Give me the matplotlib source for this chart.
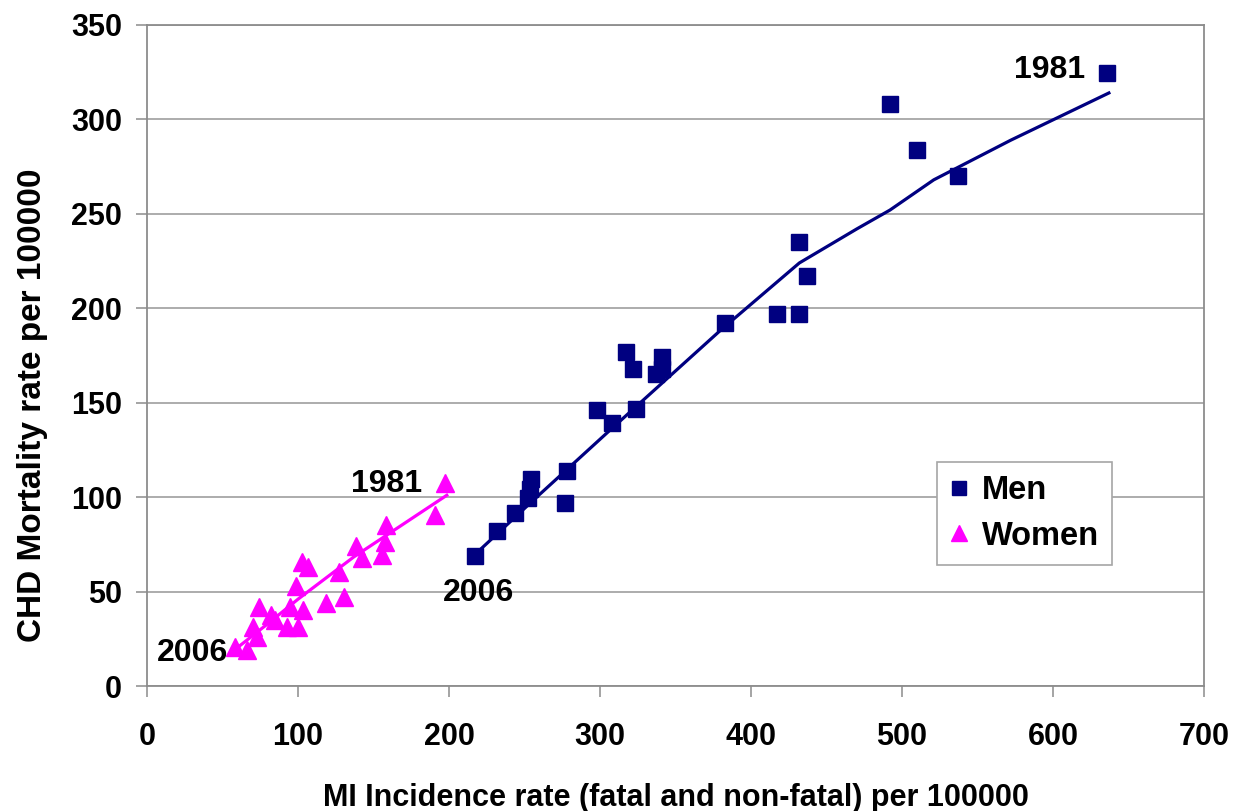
import numpy as np
import matplotlib.pyplot as plt

plt.rcParams['font.family'] = ['Liberation Sans', 'DejaVu Sans']
plt.rcParams['font.weight'] = 'bold'

# men: MI incidence vs CHD mortality, per 100000
men_x = [217, 232, 244, 252.5, 253.6, 254.3, 277, 278, 298, 308, 317, 322, 324,
         337, 341, 341, 383, 417, 432, 432, 437, 492, 510, 537, 636]
men_y = [69, 82, 91.5, 99.5, 104.5, 109.5, 97, 114, 146, 139, 177, 168, 146.5,
         165, 174, 168, 192, 197, 197, 235, 217, 308, 284, 270, 324.5]
men_trend_x = [221, 258, 308, 380, 432, 470, 492, 521, 572, 637]
men_trend_y = [72.5, 100, 136.5, 188.5, 224, 242, 252, 268, 289, 314]

# women
women_x = [58.3, 66, 70.4, 72.5, 74.3, 82.4, 84.8, 92.5, 100.2, 94.7, 103.5, 98.7,
           102.4, 106.8, 118.5, 130.5, 127.3, 138.4, 142.1, 155.3, 157.6, 158.3,
           190.7, 197.4]
women_y = [20.8, 19, 31.4, 26, 42, 37.6, 35, 31.4, 31.4, 42, 40.2, 53,
           65.8, 63.2, 43.8, 47.3, 60.5, 74.1, 67.6, 69.3, 76.4, 85.2,
           90.5, 107.3]
women_trend_x = [55, 80, 100, 137, 198.5]
women_trend_y = [17.3, 33, 46, 68.4, 101]

men_col = '#000080'
women_col = '#FF00FF'

fig = plt.figure(figsize=(12.41, 8.11), dpi=100)
ax = fig.add_axes([0.1185, 0.1541, 0.8517, 0.8151])

ax.plot(men_trend_x, men_trend_y, color=men_col, lw=2.3, zorder=2)
ax.plot(women_trend_x, women_trend_y, color=women_col, lw=2.3, zorder=2)
ax.plot(men_x, men_y, ls='none', marker='s', ms=11, color=men_col, label='Men', zorder=3)
ax.plot(women_x, women_y, ls='none', marker='^', ms=13, color=women_col, label='Women', zorder=3)

ax.text(621, 326, '1981', ha='right', va='center', fontsize=23, fontweight='bold')
ax.text(182, 107, '1981', ha='right', va='center', fontsize=23, fontweight='bold')
ax.text(196, 49, '2006', ha='left', va='center', fontsize=23, fontweight='bold')
ax.text(53.6, 17.5, '2006', ha='right', va='center', fontsize=23, fontweight='bold')

ax.set_xlim(0, 700)
ax.set_ylim(0, 350)
ax.set_xticks(np.arange(0, 701, 100))
ax.set_yticks(np.arange(0, 351, 50))
ax.yaxis.grid(True, color='#a6a6a6', lw=1.3)
ax.set_axisbelow(True)
for s in ax.spines.values():
    s.set_color('#8c8c8c')
    s.set_linewidth(1.3)
ax.tick_params(axis='both', colors='#8c8c8c', length=8, width=1.1, labelcolor='black',
               labelsize=22)
ax.tick_params(axis='x', pad=18)
ax.tick_params(axis='y', pad=10)
for lab in ax.get_xticklabels() + ax.get_yticklabels():
    lab.set_fontweight('bold')

ax.set_xlabel('MI Incidence rate (fatal and non-fatal) per 100000', fontsize=22,
              fontweight='bold', labelpad=22)
ax.set_ylabel('CHD Mortality rate per 100000', fontsize=24, fontweight='bold')
ax.yaxis.set_label_coords(-0.094, 0.425)

leg = ax.legend(loc='upper left', bbox_to_anchor=(0.747, 0.339), borderaxespad=0,
                fontsize=23.5, frameon=True, fancybox=False, framealpha=1,
                edgecolor='#a6a6a6', handlelength=0.6, handletextpad=0.4,
                borderpad=0.4, labelspacing=0.45, markerscale=0.9)
leg.get_frame().set_linewidth(1.2)
for t in leg.get_texts():
    t.set_fontweight('bold')

fig.savefig('out.png', dpi=100)
